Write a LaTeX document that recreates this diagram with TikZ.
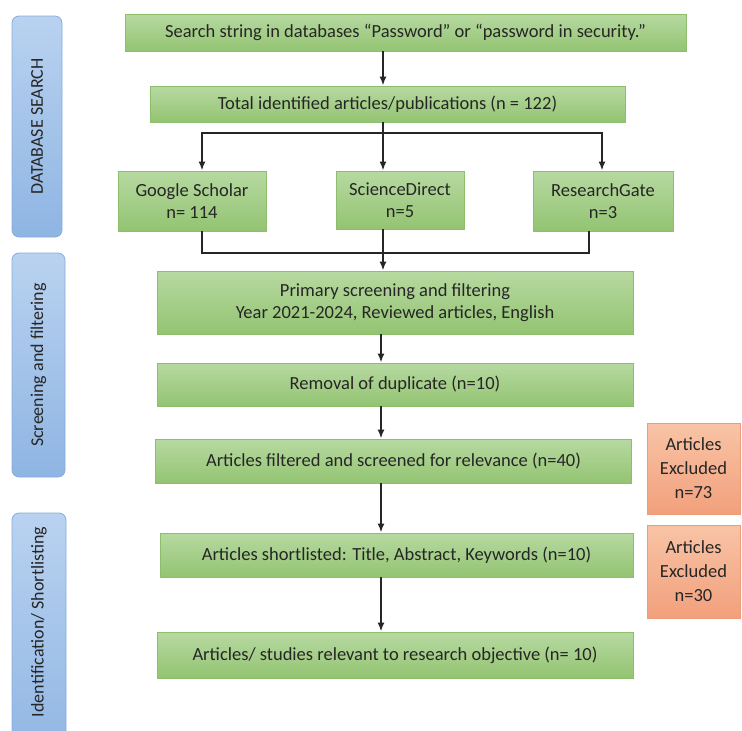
\documentclass[tikz,border=0pt]{standalone}
\usepackage{fontspec}
\setmainfont{Carlito}
\usepackage{xcolor}
\usepackage{tikz}
\usetikzlibrary{calc,arrows.meta}

\definecolor{greentop}{HTML}{B7D9A1}
\definecolor{greenbot}{HTML}{93C472}
\definecolor{greenline}{HTML}{8DBE6C}
\definecolor{bluetop}{HTML}{B9D2F0}
\definecolor{bluebot}{HTML}{8FB5E3}
\definecolor{blueline}{HTML}{86ACDB}
\definecolor{orangetop}{HTML}{F8C4A6}
\definecolor{orangebot}{HTML}{F2A07C}
\definecolor{orangeline}{HTML}{EE9C78}
\definecolor{ink}{HTML}{262626}

\begin{document}
\begin{tikzpicture}[x=1pt,y=-1pt,
  box/.style={draw=greenline, line width=0.8pt, top color=greentop, bottom color=greenbot, text=ink, align=center, inner sep=0pt, font=\fontsize{18.5}{22}\selectfont},
  panel/.style={draw=blueline, line width=0.8pt, top color=bluetop, bottom color=bluebot, rounded corners=7pt, text=ink, inner sep=0pt},
  excl/.style={draw=orangeline, line width=0.8pt, top color=orangetop, bottom color=orangebot, text=ink, align=center, inner sep=0pt, font=\fontsize{18.5}{24}\selectfont},
  arr/.style={-{Latex[length=9pt,width=7pt]}, line width=1.8pt, draw=ink},
  link/.style={line width=1.8pt, draw=ink}]

\def\WIDTH{476pt}
\def\MX{383}

\useasboundingbox (0,0) rectangle (742,731);
\clip (0,0) rectangle (742,731);

% side panels
\node at (37,126.5) [panel, minimum width=50pt, minimum height=221pt] (p0) {};
\node at (p0.center) [rotate=90, text=ink, font=\fontsize{18}{20}\selectfont] (t0) {DATABASE SEARCH};
\node at (38.5,365) [panel, minimum width=53pt, minimum height=224pt] (p1) {};
\node at (p1.center) [rotate=90, text=ink, font=\fontsize{18}{20}\selectfont] (t1) {Screening and filtering};
\node at (39,640) [panel, minimum width=54pt, minimum height=254pt] (p2) {};
\node at (39,622) [rotate=90, text=ink, font=\fontsize{18}{20}\selectfont] (t2) {Identification/ Shortlisting};

% database search
\node at (405.5,32.5) [box, minimum width=561pt, minimum height=37pt] (b0) {Search string in databases “Password” or “password in security.”};
\node at (387.5,104) [box, minimum width=475pt, minimum height=36pt] (b1) {Total identified articles/publications (n = 122)};
\node at (192,201) [box, minimum width=148pt, minimum height=60pt] (d0) {Google Scholar\\n= 114};
\node at (400,200) [box, minimum width=128pt, minimum height=58pt] (d1) {ScienceDirect\\n=5};
\node at (603,201) [box, minimum width=140pt, minimum height=60pt] (d2) {ResearchGate\\n=3};

% screening and shortlisting
\node at (395,302.5) [box, minimum width=\WIDTH, minimum height=63pt] (b2) {Primary screening and filtering\\Year 2021-2024, Reviewed articles, English};
\node at (395,384.5) [box, minimum width=\WIDTH, minimum height=43pt] (b3) {Removal of duplicate (n=10)};
\node at (393.5,461) [box, minimum width=\WIDTH, minimum height=44pt] (b4) {Articles filtered and screened for relevance (n=40)};
\node at (396.5,555) [box, minimum width=473pt, minimum height=44pt] (b5) {Articles shortlisted: Title, Abstract, Keywords (n=10)};
\node at (395,655) [box, minimum width=\WIDTH, minimum height=46pt] (b6) {Articles/ studies relevant to research objective (n= 10)};

% excluded
\node at (693.5,468.5) [excl, minimum width=93pt, minimum height=91pt] (x0) {Articles\\Excluded\\n=73};
\node at (693.5,571.5) [excl, minimum width=93pt, minimum height=93pt] (x1) {Articles\\Excluded\\n=30};

% connectors
\coordinate (m) at (\MX,0);
\coordinate (split) at (\MX,133);
\coordinate (join) at (\MX,253);
\draw[arr] (b0.south -| m) -- (b1.north -| m);
\draw[arr] (b1.south -| m) -- (d1.north -| m);
\draw[arr] (split) -| ([xshift=10pt]d0.north);
\draw[arr] (split) -| ([xshift=-1pt]d2.north);
\draw[link] ([xshift=10pt]d0.south) |- (join) -| ([xshift=-14pt]d2.south);
\draw[arr] (d1.south -| m) -- (b2.north -| m);
\draw[arr] ([xshift=-2pt]b2.south -| m) -- ([xshift=-2pt]b3.north -| m);
\draw[arr] ([xshift=-2pt]b3.south -| m) -- ([xshift=-2pt]b4.north -| m);
\draw[arr] ([xshift=-2pt]b4.south -| m) -- ([xshift=-2pt]b5.north -| m);
\draw[arr] ([xshift=-2pt]b5.south -| m) -- ([xshift=-2pt]b6.north -| m);

\end{tikzpicture}
\end{document}
